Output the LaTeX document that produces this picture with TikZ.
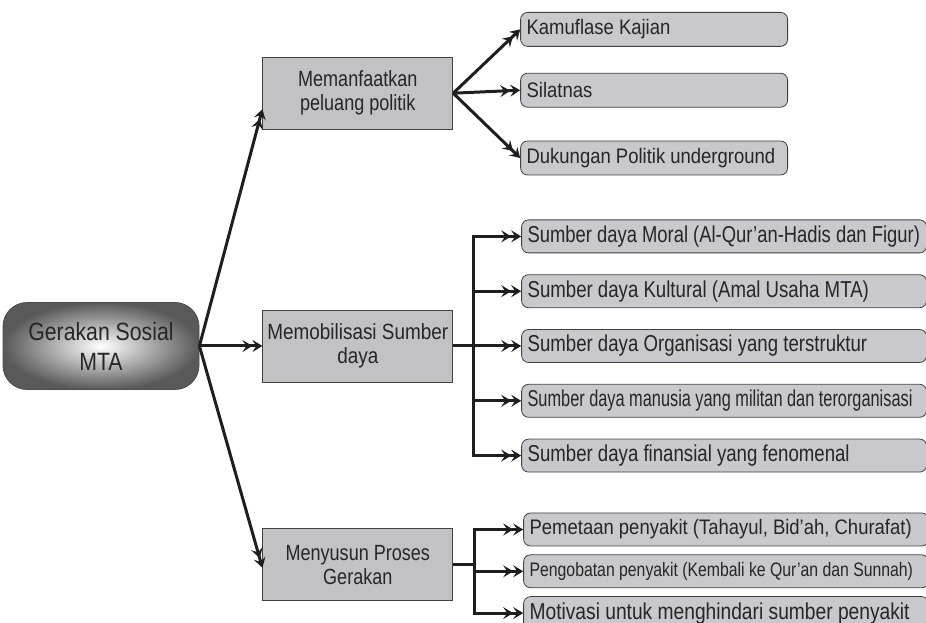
\documentclass[tikz,border=0pt]{standalone}
\usepackage{fontspec}
\setmainfont{Liberation Sans}
\usetikzlibrary{arrows.meta,positioning}

% size, line distance and horizontal squeeze of a label
\newcommand\face[3]{\addfontfeatures{FakeStretch=#3}\fontsize{#1}{#2}\selectfont}

\definecolor{goalgray}{RGB}{194,194,196}
\definecolor{itemgray}{RGB}{201,201,205}
\definecolor{linegray}{RGB}{30,30,30}
\definecolor{textgray}{RGB}{38,38,38}

\begin{document}
\begin{tikzpicture}[x=1pt,y=1pt,line width=3pt,
                    >={Stealth[length=10pt,width=12pt,inset=4pt]}]
  \tikzstyle{every node}=[text=textgray]
  \tikzstyle{hub}=[draw=black!70,line width=0.8pt,rounded corners=24pt,
                   inner color=white,outer color=black!65,
                   minimum width=196pt,minimum height=87pt,align=center,
                   font=\face{25}{30}{0.85}]
  \tikzstyle{goal}=[draw=black!75,line width=0.8pt,fill=goalgray,
                    minimum width=190pt,minimum height=72pt,align=center,
                    font=\face{22}{24}{0.82}]
  \tikzstyle{item}=[draw=black!75,line width=0.8pt,fill=itemgray,
                    rounded corners=7pt,minimum height=34pt,inner xsep=6pt,
                    inner ysep=0pt,text width=255pt,align=flush left,
                    font=\face{21}{24}{0.88}]
  \tikzstyle{longitem}=[item,minimum height=33pt,text width=393pt]
  \tikzstyle{link}=[->>,draw=linegray,line width=3pt]

  \useasboundingbox (0,0) rectangle (926,623);

  \node[hub]  (gsm) at (101,277)       {Gerakan Sosial\\MTA};
  \node[goal,font=\face{22}{24}{0.86}] (mob) [right=63pt of gsm] {Memobilisasi Sumber\\daya};
  \node[goal] (pol) [above=180pt of mob] {Memanfaatkan\\peluang politik};
  \node[goal] (ges) [below=146pt of mob] {Menyusun Proses\\Gerakan};

  % peluang politik
  \node[item] (sil) [right=67pt of pol,yshift=3pt] {Silatnas};
  \node[item] (kam) [above=26pt of sil]            {Kamuflase Kajian};
  \node[item] (duk) [below=33pt of sil]            {Dukungan Politik underground};

  % sumber daya
  \node[longitem,font=\face{23}{26}{0.81}] (org) [right=68pt of mob] {Sumber daya Organisasi yang terstruktur};
  \node[longitem,font=\face{23}{26}{0.81}] (kul) [above=21pt of org] {Sumber daya Kultural (Amal Usaha MTA)};
  \node[longitem,font=\face{23}{26}{0.8}]  (mor) [above=21pt of kul] {Sumber daya Moral (Al-Qur’an-Hadis dan Figur)};
  \node[longitem,font=\face{23}{26}{0.71}] (man) [below=21pt of org] {Sumber daya manusia yang militan dan terorganisasi};
  \node[longitem,font=\face{23}{26}{0.81}] (fin) [below=21pt of man] {Sumber daya finansial yang fenomenal};

  % proses gerakan
  \node[longitem,font=\face{19.5}{22}{0.81}] (obat) [right=70pt of ges,yshift=-6.5pt]
       {Pengobatan penyakit (Kembali ke Qur’an dan Sunnah)};
  \node[longitem] (peta) [above=8pt of obat] {Pemetaan penyakit (Tahayul, Bid’ah, Churafat)};
  \node[longitem,font=\face{23}{26}{0.835}] (moti) [below=8pt of obat]
       {Motivasi untuk menghindari sumber penyakit};

  \coordinate[right=20pt of mob] (mobfork);
  \coordinate[right=21pt of ges] (gesfork);

  \draw[link] (gsm.east) -- ([yshift=-16pt]pol.west);
  \draw[link] (gsm.east) -- (mob.west);
  \draw[link] (gsm.east) -- ([yshift=-3pt]ges.west);
  \draw[link] (pol.east) -- (kam.west);
  \draw[link] (pol.east) -- (sil.west);
  \draw[link] (pol.east) -- (duk.west);

  \draw[draw=linegray] (mob.east) -- (mobfork)
                       (ges.east) -- (gesfork);

  \draw[link] (mobfork) |- (mor.west);
  \draw[link] (mobfork) |- (kul.west);
  \draw[link] (mobfork) |- (org.west);
  \draw[link] (mobfork) |- (man.west);
  \draw[link] (mobfork) |- (fin.west);
  \draw[link] (gesfork) |- (peta.west);
  \draw[link] (gesfork) |- (obat.west);
  \draw[link] (gesfork) |- (moti.west);
\end{tikzpicture}
\end{document}
